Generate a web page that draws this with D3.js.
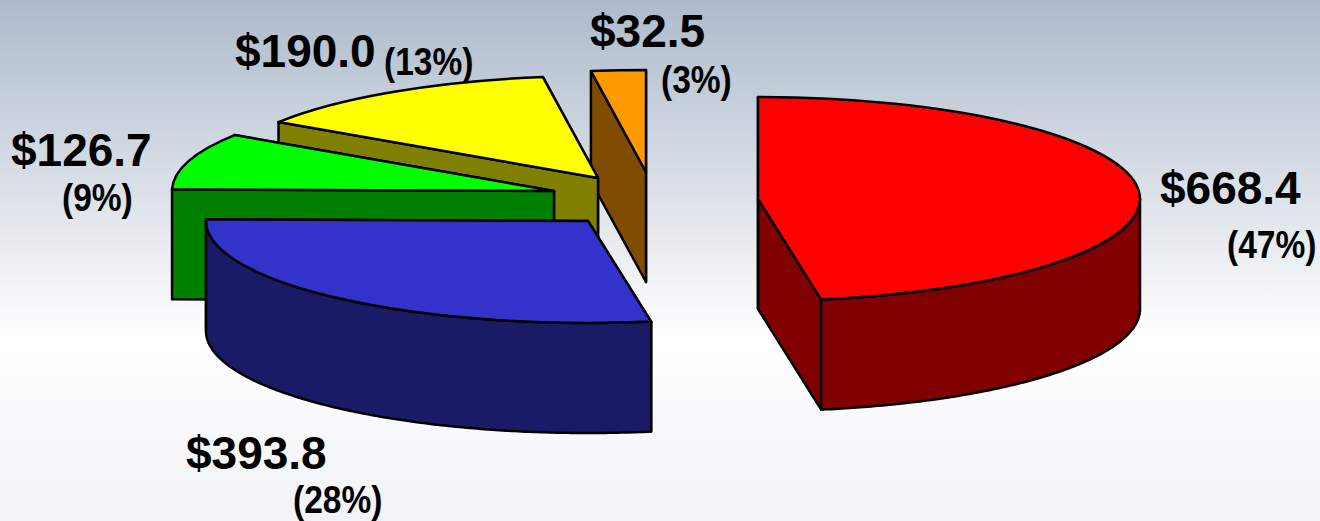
<!DOCTYPE html>
<html>
<head>
<meta charset="utf-8">
<script src="https://cdn.jsdelivr.net/npm/d3@7"></script>
<style>
html, body { margin: 0; padding: 0; background: #fff; }
svg { display: block; }
</style>
</head>
<body>
<svg width="1320" height="521"></svg>
<script>
// data, clockwise from 12 o'clock
var values = [668.4, 393.8, 126.7, 190.0, 32.5];
var shares = ["(47%)", "(28%)", "(9%)", "(13%)", "(3%)"];

var topColors = ["#ff0000", "#3333cc", "#00ff00", "#ffff00", "#ff9900"];
var wallColors = ["#800000", "#1a1a66", "#008000", "#808000", "#804d00"];

// exploded slice origins and label anchors
var origins = [[758, 199], [588, 221], [554, 191], [598, 178], [646, 172]];
var valueAnchors = [[1160, 204], [186, 469], [11, 166], [235, 67], [590, 47]];
var shareAnchors = [[1227, 258], [293, 513], [62, 211], [384, 75], [661, 93]];
var drawOrder = [4, 3, 2, 1, 0];

var rx = 382, ry = 102, depth = 110;

var svg = d3.select("svg");

// background
var defs = svg.append("defs");
var grad = defs.append("linearGradient")
    .attr("id", "bg")
    .attr("x1", 0).attr("y1", 0).attr("x2", 0).attr("y2", 1);
grad.append("stop").attr("offset", "0%").attr("stop-color", "#aebacb");
grad.append("stop").attr("offset", "65%").attr("stop-color", "#ffffff");
grad.append("stop").attr("offset", "100%").attr("stop-color", "#f2f3f7");
svg.append("rect").attr("width", 1320).attr("height", 521).attr("fill", "url(#bg)");

var pie = d3.pie().sort(null);
var slices = pie(values);

var arc = d3.arc().innerRadius(0).outerRadius(rx);
var line = d3.line();

// point on the tilted rim
function rim(a, o, dy) {
    return [o[0] + rx * Math.sin(a), o[1] - ry * Math.cos(a) + dy];
}

function cutWall(a, o) {
    return line([o, rim(a, o, 0), rim(a, o, depth), [o[0], o[1] + depth]]) + "Z";
}

function outerWall(d, o) {
    var a0 = Math.max(d.startAngle, Math.PI / 2);
    var a1 = Math.min(d.endAngle, Math.PI * 1.5);
    if (a1 <= a0) return null;
    var angles = d3.range(a0, a1, 0.01).concat([a1]);
    var upper = angles.map(function(a) { return rim(a, o, 0); });
    var lower = angles.slice().reverse().map(function(a) { return rim(a, o, depth); });
    return line(upper.concat(lower)) + "Z";
}

var group = svg.append("g")
    .attr("stroke", "#000")
    .attr("stroke-width", 2.5)
    .attr("stroke-linejoin", "round");

drawOrder.forEach(function(i) {
    var d = slices[i], o = origins[i];
    var g = group.append("g");
    g.append("path").attr("d", cutWall(d.endAngle, o)).attr("fill", wallColors[i]);
    g.append("path").attr("d", cutWall(d.startAngle, o)).attr("fill", wallColors[i]);
    var outer = outerWall(d, o);
    if (outer) g.append("path").attr("d", outer).attr("fill", wallColors[i]);
    g.append("path")
        .attr("d", arc(d))
        .attr("transform", "translate(" + o[0] + "," + o[1] + ") scale(1," + (ry / rx) + ")")
        .attr("vector-effect", "non-scaling-stroke")
        .attr("fill", topColors[i]);
});

// labels
svg.append("g").selectAll("text")
    .data(values)
    .join("text")
    .attr("x", function(d, i) { return valueAnchors[i][0]; })
    .attr("y", function(d, i) { return valueAnchors[i][1]; })
    .attr("font-family", "'Liberation Sans', Arial, sans-serif")
    .attr("font-weight", "bold")
    .attr("font-size", 46)
    .attr("fill", "#000")
    .text(function(d) { return "$" + d3.format(".1f")(d); });

// no narrow face installed, so squeeze the share labels
svg.append("g").selectAll("text")
    .data(shares)
    .join("text")
    .attr("transform", function(d, i) {
        return "translate(" + shareAnchors[i][0] + "," + shareAnchors[i][1] + ") scale(0.86,1)";
    })
    .attr("font-family", "'Liberation Sans', sans-serif")
    .attr("font-weight", "bold")
    .attr("font-size", 39)
    .attr("fill", "#000")
    .text(function(d) { return d; });
</script>
</body>
</html>
